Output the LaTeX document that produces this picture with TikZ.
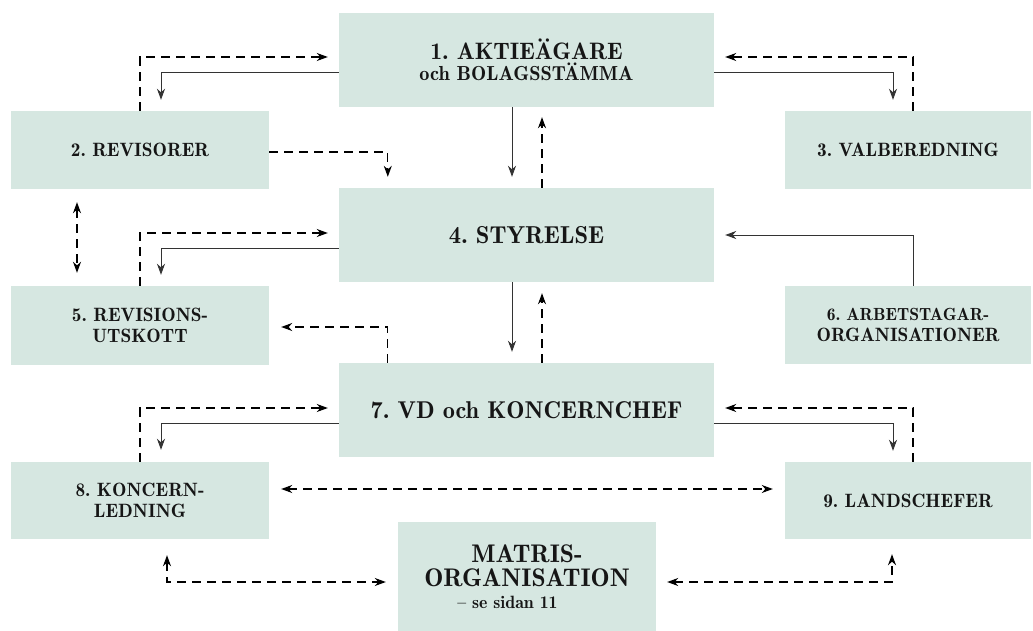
\documentclass[tikz,border=0pt]{standalone}
\usetikzlibrary{arrows.meta}
\definecolor{boxfill}{RGB}{214,231,225}
\definecolor{txt}{RGB}{22,22,22}
\frenchspacing
\begin{document}
\begin{tikzpicture}[x=1pt,y=-1pt,
  box/.style={fill=boxfill, draw=none, inner sep=0pt, align=center, text=txt,
    font=\fontseries{b}\fontsize{19.3}{21.5}\selectfont},
  tip/.style={-{Stealth[length=11pt,width=8pt,inset=3.5pt]}},
  sol/.style={line width=0.9pt, draw=black!80, tip},
  dsh/.style={line width=1.1pt, dash pattern=on 9pt off 6pt, tip},
  dd/.style={line width=1.1pt, dash pattern=on 9pt off 6pt,
    {Stealth[length=11pt,width=8pt,inset=3.5pt]}-{Stealth[length=11pt,width=8pt,inset=3.5pt]}}
]
\useasboundingbox (0,0) rectangle (1033,631);
% boxes
\node[box, minimum width=375pt, minimum height=94pt] (b1) at (526.5,60)
  {{\fontsize{23.8}{21.5}\selectfont 1. AKTIEÄGARE}\\{\fontsize{20.3}{21.5}\selectfont och BOLAGSSTÄMMA}};
\node[box, minimum width=258pt, minimum height=78pt] (b2) at (140,150) {2. REVISORER};
\node[box, minimum width=246pt, minimum height=78pt] (b3) at (908,150) {3. VALBEREDNING};
\node[box, minimum width=375pt, minimum height=94pt] (b4) at (526.5,235)
  {\fontsize{24.5}{26}\selectfont 4. STYRELSE};
\node[box, minimum width=258pt, minimum height=79pt] (b5) at (140,325.5) {5. REVISIONS-\\UTSKOTT};
\node[box, minimum width=246pt, minimum height=78pt] (b6) at (908,325)
  {\fontsize{17.6}{21.5}\selectfont 6. ARBETSTAGAR-\\ORGANISATIONER};
\node[box, minimum width=375pt, minimum height=94pt] (b7) at (526.5,410)
  {\fontsize{24.3}{26}\selectfont 7. VD och KONCERNCHEF};
\node[box, minimum width=258pt, minimum height=77pt] (b8) at (140,500.5) {8. KONCERN-\\LEDNING};
\node[box, minimum width=246pt, minimum height=77pt] (b9) at (908,500.5) {9. LANDSCHEFER};
\node[box, minimum width=258pt, minimum height=109pt,
  font=\fontseries{b}\fontsize{25.5}{24.5}\selectfont] (bm) at (527,576.5)
  {MATRIS-\\ORGANISATION\\[-3pt]{\fontsize{17.8}{21}\selectfont -- se sidan 11\hspace*{39pt}}};
% connectors
\draw[dsh] (b2.north) |- ([xshift=-11pt,yshift=3pt]b1.west);
\draw[sol] ([yshift=-12pt]b1.west) -| ([xshift=21pt,yshift=11pt]b2.north);
\draw[dsh] ([xshift=5pt]b3.north) |- ([xshift=11pt,yshift=3pt]b1.east);
\draw[sol] ([yshift=-12pt]b1.east) -| ([xshift=-15pt,yshift=11pt]b3.north);
\draw[sol] ([xshift=-14.5pt]b1.south) -- ([xshift=-14.5pt,yshift=11pt]b4.north);
\draw[dsh] ([xshift=15.5pt]b4.north) -- ([xshift=15.5pt,yshift=-10pt]b1.south);
\draw[dsh] ([yshift=-2pt]b2.east) -| ([xshift=49pt,yshift=11pt]b4.north west);
\draw[dd] ([xshift=-63pt,yshift=-13pt]b2.south) -- ([xshift=-63pt,yshift=13pt]b5.north);
\draw[dsh] (b5.north) |- ([xshift=-11pt,yshift=2pt]b4.west);
\draw[sol] ([yshift=-13pt]b4.west) -| ([xshift=21pt,yshift=11pt]b5.north);
\draw[sol] ([xshift=5pt]b6.north) |- ([xshift=11pt]b4.east);
\draw[sol] ([xshift=-14.5pt]b4.south) -- ([xshift=-14.5pt,yshift=11pt]b7.north);
\draw[dsh] ([xshift=15.5pt]b7.north) -- ([xshift=15.5pt,yshift=-11pt]b4.south);
\draw[dsh] ([xshift=49pt]b7.north west) |- ([xshift=12pt,yshift=-1.5pt]b5.east);
\draw[dsh] (b8.north) |- ([xshift=-11pt,yshift=2pt]b7.west);
\draw[sol] ([yshift=-13pt]b7.west) -| ([xshift=21pt,yshift=12pt]b8.north);
\draw[dsh] ([xshift=5pt]b9.north) |- ([xshift=11pt,yshift=2pt]b7.east);
\draw[sol] ([yshift=-13pt]b7.east) -| ([xshift=-15pt,yshift=11pt]b9.north);
\draw[dd] ([xshift=12pt,yshift=11.5pt]b8.east) -- ([xshift=-12pt,yshift=11.5pt]b9.west);
\draw[dd] ([xshift=27pt,yshift=-16pt]b8.south) |- ([xshift=-12pt,yshift=-5.5pt]bm.west);
\draw[dd] ([xshift=11pt,yshift=-5.5pt]bm.east) -| ([xshift=-16pt,yshift=-15pt]b9.south);
\end{tikzpicture}
\end{document}
